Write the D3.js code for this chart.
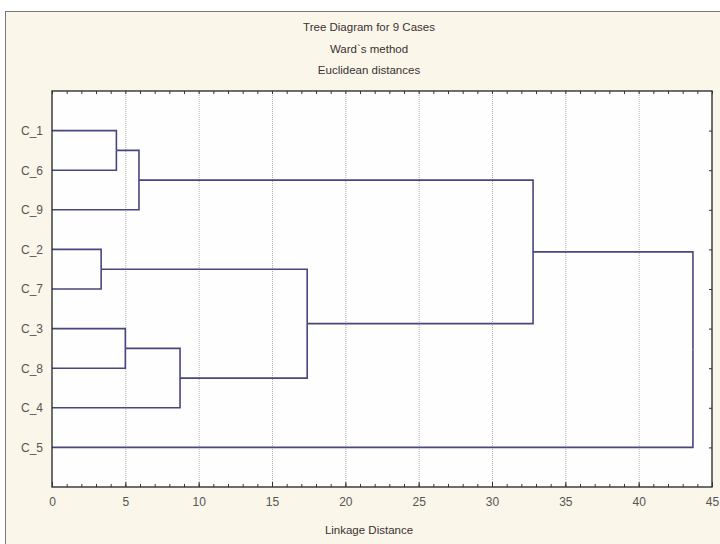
<html>
<head>
  <meta charset="utf-8"/>
  <title>Tree Diagram</title>
  <script src="https://cdn.jsdelivr.net/npm/d3@7"></script>
  <style>
    body { margin: 0; background: #fff; }
    text { font-family: "Liberation Sans", Arial, sans-serif; }
  </style>
</head>
<body>
<div id="chart"></div>
<script>

// leaf order as drawn top to bottom
var cases = ["C_1", "C_6", "C_9", "C_2", "C_7", "C_3", "C_8", "C_4", "C_5"];
// merges: ids 0..8 are leaves, each merge creates id 9, 10, ...
var mergeA = [0, 9, 3, 5, 12, 11, 10, 15];
var mergeB = [1, 2, 4, 6, 7, 13, 14, 8];
var mergeDist = [4.39, 5.93, 3.35, 5.0, 8.73, 17.4, 32.8, 43.7];
var xTicks = [0, 5, 10, 15, 20, 25, 30, 35, 40, 45];
var titleLines = ["Tree Diagram for 9 Cases", "Ward`s method", "Euclidean distances"];

var W = 720, H = 544;
// note: "top" is reserved on window, so use pL/pR/pT/pB
var pL = 52, pR = 712, pT = 91, pB = 487;
var lineColor = "#48467e";

var svg = d3.select("#chart").append("svg")
  .attr("width", W)
  .attr("height", H);

// outer frame
svg.append("rect").attr("width", W).attr("height", H).attr("fill", "#fff");
svg.append("rect")
  .attr("x", 5.5).attr("y", 11.5)
  .attr("width", W).attr("height", H)
  .attr("fill", "#faf6ea")
  .attr("stroke", "#7a7a7a");

var x = d3.scaleLinear().domain([0, 45]).range([pL, pR]);
var y = d3.scaleLinear().domain([0, 10]).range([pT, pB]);

// plot background
svg.append("rect")
  .attr("x", pL).attr("y", pT)
  .attr("width", pR - pL).attr("height", pB - pT)
  .attr("fill", "#fefefe");

// dotted grid
svg.append("g").selectAll("line")
  .data(xTicks.slice(1, -1))
  .enter().append("line")
  .attr("x1", function(d){ return x(d) + 0.5; })
  .attr("x2", function(d){ return x(d) + 0.5; })
  .attr("y1", pT).attr("y2", pB)
  .attr("stroke", "#b5b0a8")
  .attr("stroke-dasharray", "1,1");

// build the tree nodes
var nodes = cases.map(function(c, i){
  return { name: c, dist: 0, y: y(i + 1) };
});
mergeA.forEach(function(a, i){
  var na = nodes[a], nb = nodes[mergeB[i]];
  nodes.push({ a: na, b: nb, dist: mergeDist[i], y: (na.y + nb.y) / 2 });
});

var g = svg.append("g")
  .attr("fill", "none")
  .attr("stroke", lineColor)
  .attr("stroke-width", 1.6);

nodes.forEach(function(n){
  if (!n.a) return;
  var xn = x(n.dist);
  [n.a, n.b].forEach(function(c){
    g.append("path")
      .attr("d", "M" + x(c.dist) + "," + c.y + "H" + xn + "V" + n.y);
  });
});

// axes frame
svg.append("rect")
  .attr("x", pL).attr("y", pT)
  .attr("width", pR - pL).attr("height", pB - pT)
  .attr("fill", "none")
  .attr("stroke", "#222")
  .attr("stroke-width", 1.3);

// bottom axis, ticks pointing inward
var minor = d3.range(0, 46, 1);
var bottomAxis = svg.append("g")
  .attr("transform", "translate(0," + pB + ")")
  .call(d3.axisBottom(x).tickValues(minor).tickSize(-3).tickFormat(""));
bottomAxis.select(".domain").remove();
bottomAxis.selectAll("line").attr("stroke", "#333");

var bottomLabels = svg.append("g")
  .attr("transform", "translate(0," + pB + ")")
  .call(d3.axisBottom(x).tickValues(xTicks).tickSize(-5).tickPadding(10));
bottomLabels.select(".domain").remove();
bottomLabels.selectAll("line").attr("stroke", "#333");
bottomLabels.selectAll("text")
  .attr("font-size", 12)
  .attr("fill", "#555")
  .attr("font-family", "Liberation Sans, Arial, sans-serif");

// top axis ticks
var topAxis = svg.append("g")
  .attr("transform", "translate(0," + pT + ")")
  .call(d3.axisTop(x).tickValues(minor).tickSize(-3).tickFormat(""));
topAxis.select(".domain").remove();
topAxis.selectAll("line").attr("stroke", "#333");

// left labels
var leftAxis = svg.append("g")
  .attr("transform", "translate(" + pL + ",0)")
  .call(d3.axisLeft(y).tickValues(d3.range(1, 10)).tickSize(0).tickPadding(9)
    .tickFormat(function(d){ return cases[d - 1]; }));
leftAxis.select(".domain").remove();
leftAxis.selectAll("text")
  .attr("font-size", 12)
  .attr("fill", "#555")
  .attr("font-family", "Liberation Sans, Arial, sans-serif");

// right ticks
var rightAxis = svg.append("g")
  .attr("transform", "translate(" + pR + ",0)")
  .call(d3.axisRight(y).tickValues(d3.range(1, 10)).tickSize(-3).tickFormat(""));
rightAxis.select(".domain").remove();
rightAxis.selectAll("line").attr("stroke", "#333");

// titles
svg.selectAll(".title")
  .data(titleLines)
  .enter().append("text")
  .attr("class", "title")
  .attr("x", 369)
  .attr("y", function(d, i){ return 31 + i * 21.5; })
  .attr("text-anchor", "middle")
  .attr("font-size", 11.5)
  .attr("fill", "#3a3232")
  .text(function(d){ return d; });

svg.append("text")
  .attr("x", 369)
  .attr("y", 534)
  .attr("text-anchor", "middle")
  .attr("font-size", 11.5)
  .attr("fill", "#3a3232")
  .text("Linkage Distance");

</script>
</body>
</html>
